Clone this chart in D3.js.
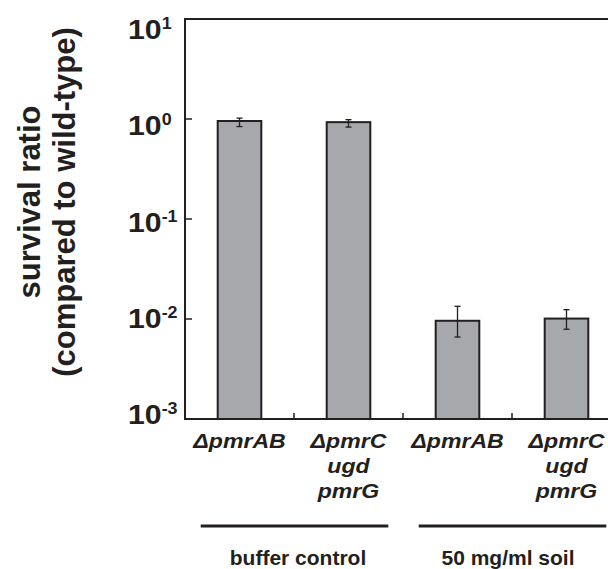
<!DOCTYPE html>
<html>
<head>
<meta charset="utf-8">
<script src="https://cdn.jsdelivr.net/npm/d3@7"></script>
<style>
  body { margin: 0; background: #fff; }
  svg text { font-family: "Liberation Sans", Arial, Helvetica, sans-serif; font-weight: bold; fill: #231f20; }
</style>
</head>
<body>
<div id="chart"></div>
<script>
// strains, one bar each
const categories = ["buf-pmrAB", "buf-pmrCugdpmrG", "soil-pmrAB", "soil-pmrCugdpmrG"];
const barLabels = [["\u0394pmrAB"], ["\u0394pmrC", "ugd", "pmrG"], ["\u0394pmrAB"], ["\u0394pmrC", "ugd", "pmrG"]];
// survival ratio, compared to wild-type
const survival = [0.955, 0.93, 0.0096, 0.0101];
const errLow = [0.84, 0.83, 0.0066, 0.0079];
const errHigh = [1.02, 0.985, 0.0134, 0.0124];
// treatment groups
const groups = ["buffer control", "50 mg/ml soil"];
const groupMembers = [[0, 1], [2, 3]];
// y ticks
const yTicks = [1e-3, 1e-2, 1e-1, 1, 10];
const yExponents = ["-3", "-2", "-1", "0", "1"];

const width = 608, height = 569;
const ink = "#231f20";

const svg = d3.select("#chart").append("svg")
    .attr("width", width)
    .attr("height", height);

const x = d3.scaleBand()
    .domain(categories)
    .range([185, 621])
    .paddingInner(0.6)
    .paddingOuter(0.3);

const y = d3.scaleLog()
    .domain([1e-3, 10])
    .range([419, 19]);

// tick labels sit a little off the ticks in the original
const yLabel = d3.scaleLog()
    .domain([1e-3, 10])
    .range([424, 39]);

// bars
svg.selectAll("rect.bar")
    .data(categories)
    .enter()
    .append("rect")
    .attr("class", "bar")
    .attr("x", d => x(d))
    .attr("width", x.bandwidth())
    .attr("y", (d, i) => y(survival[i]))
    .attr("height", (d, i) => y(1e-3) - y(survival[i]))
    .attr("fill", "#a6a8ab")
    .attr("stroke", ink)
    .attr("stroke-width", 2);

// error bars
const err = svg.selectAll("g.err")
    .data(categories)
    .enter()
    .append("g")
    .attr("class", "err")
    .attr("stroke", ink)
    .attr("stroke-width", 1.3);
err.append("line")
    .attr("x1", d => x(d) + x.bandwidth() / 2)
    .attr("x2", d => x(d) + x.bandwidth() / 2)
    .attr("y1", (d, i) => y(errLow[i]))
    .attr("y2", (d, i) => y(errHigh[i]));
[errLow, errHigh].forEach(arr => {
    err.append("line")
        .attr("x1", d => x(d) + x.bandwidth() / 2 - 3)
        .attr("x2", d => x(d) + x.bandwidth() / 2 + 3)
        .attr("y1", (d, i) => y(arr[i]))
        .attr("y2", (d, i) => y(arr[i]));
});

// frame: left axis, top line, bottom axis
const x0 = x.range()[0];
svg.append("path")
    .attr("d", `M${width},${y(10)}H${x0}V${y(1e-3)}H${width}`)
    .attr("fill", "none")
    .attr("stroke", ink)
    .attr("stroke-width", 2);

// y ticks pointing inward
svg.selectAll("line.ytick")
    .data(yTicks.slice(1, -1))
    .enter()
    .append("line")
    .attr("x1", x0)
    .attr("x2", x0 + 7)
    .attr("y1", d => y(d))
    .attr("y2", d => y(d))
    .attr("stroke", ink)
    .attr("stroke-width", 1.5);

// y tick labels 10^n (the original type is a bit wider than Arial)
const yt = svg.selectAll("text.ylab")
    .data(yTicks)
    .enter()
    .append("text")
    .attr("class", "ylab")
    .attr("transform", d => `translate(128,${yLabel(d)}) scale(1.12,1)`)
    .style("font-size", "27px");
yt.append("tspan").text("10");
yt.append("tspan")
    .attr("dy", -10)
    .style("font-size", "16px")
    .text((d, i) => yExponents[i]);

// x ticks between strains, pointing up
const step = x.step();
svg.selectAll("line.xtick")
    .data(categories.slice(0, -1))
    .enter()
    .append("line")
    .attr("x1", d => x(d) + x.bandwidth() + (step - x.bandwidth()) / 2)
    .attr("x2", d => x(d) + x.bandwidth() + (step - x.bandwidth()) / 2)
    .attr("y1", y(1e-3))
    .attr("y2", y(1e-3) - 6)
    .attr("stroke", ink)
    .attr("stroke-width", 1.5);

// strain labels
const bl = svg.selectAll("text.barlab")
    .data(categories)
    .enter()
    .append("text")
    .attr("class", "barlab")
    .attr("transform", d => `translate(${x(d) + x.bandwidth() / 2},0) scale(1.1,1)`)
    .attr("text-anchor", "middle")
    .style("font-size", "21px")
    .style("font-style", "italic");
bl.selectAll("tspan")
    .data((d, i) => barLabels[i])
    .enter()
    .append("tspan")
    .attr("x", 0)
    .attr("y", (d, j) => 448 + j * 25)
    .text(d => d);

// group bars and labels
groupMembers.forEach((m, g) => {
    const first = categories[m[0]], last = categories[m[m.length - 1]];
    svg.append("line")
        .attr("x1", x(first) - 17)
        .attr("x2", x(last) + x.bandwidth() + 18)
        .attr("y1", 526).attr("y2", 526)
        .attr("stroke", ink)
        .attr("stroke-width", 3);
    svg.append("text")
        .attr("x", (x(first) + x(last) + x.bandwidth()) / 2 + (g === 0 ? 4 : -4))
        .attr("y", 565)
        .attr("text-anchor", "middle")
        .style("font-size", "21px")
        .text(groups[g]);
});

// y axis title
const title = svg.append("text")
    .attr("transform", "translate(0,202) rotate(-90)")
    .attr("text-anchor", "middle")
    .style("font-size", "31px");
title.append("tspan").attr("x", 0).attr("y", 40).text("survival ratio");
title.append("tspan").attr("x", 0).attr("y", 75).text("(compared to wild-type)");
</script>
</body>
</html>
